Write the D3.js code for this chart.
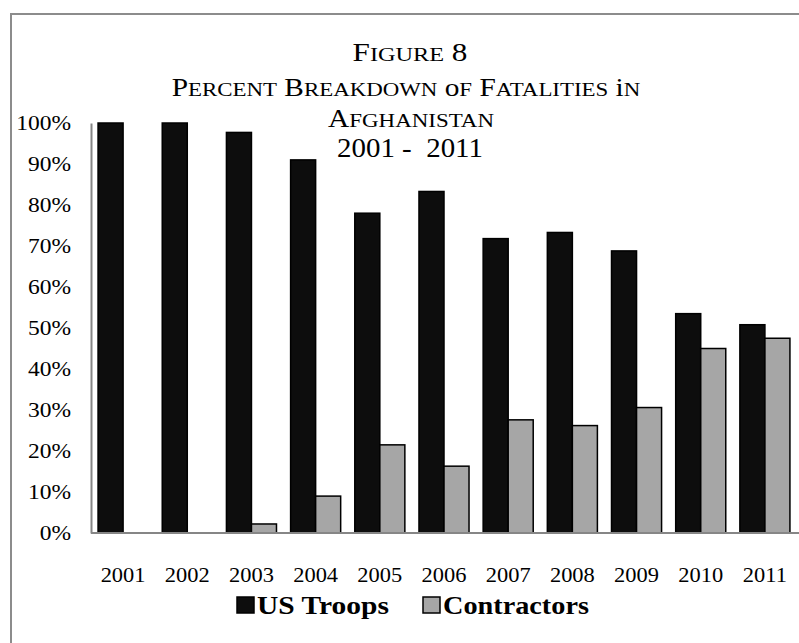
<!DOCTYPE html>
<html><head><meta charset="utf-8">
<script src="https://cdn.jsdelivr.net/npm/d3@7/dist/d3.min.js"></script>
<style>body{margin:0;background:#fff}svg{display:block}text{font-family:"Liberation Serif","Times New Roman",serif}</style>
</head><body><svg id="c" width="799" height="643"></svg>
<script>
const years = ["2001","2002","2003","2004","2005","2006","2007","2008","2009","2010","2011"];
const usTroops = [100, 100, 97.7, 91, 78, 83.3, 71.8, 73.3, 68.8, 53.5, 50.8];
const contractors = [0, 0, 2.2, 9, 21.5, 16.3, 27.6, 26.2, 30.6, 45, 47.5];
const yTicks = [0,10,20,30,40,50,60,70,80,90,100];
const seriesNames = ["US Troops","Contractors"];
const colors = ["#0d0d0d","#a6a6a6"];

(function(){
const svg = d3.select("#c");
svg.append("rect").attr("x",11).attr("y",14).attr("width",800).attr("height",640)
  .attr("fill","#fff").attr("stroke","#8c8c8c").attr("stroke-width",2);

const pLeft=91, pRight=797, pTop=123, pBottom=533;
const x = d3.scaleBand().domain(years).range([pLeft,pRight]).paddingInner(0.22).paddingOuter(0.11);
const xs = d3.scaleBand().domain(seriesNames).range([0,x.bandwidth()]);
const y = d3.scaleLinear().domain([0,100]).range([pBottom,pTop]);

// helper: stretch a text horizontally to a target width around its anchor (x=0 in its group)
function fitWidth(textSel, target){
  const w = textSel.node().getBBox().width;
  textSel.attr("transform", `scale(${target/w},1)`);
}

// title
function smallCaps(cx, yy, words, big, small, width){
  const gg = svg.append("g").attr("transform",`translate(${cx},${yy})`);
  const tx = gg.append("text").attr("x",0).attr("y",0).attr("text-anchor","middle").attr("fill","#000");
  words.forEach((w,i)=>{
    tx.append("tspan").attr("font-size",big).text((i?" ":"")+w[0]);
    if(w.length>1) tx.append("tspan").attr("font-size",small).text(w.slice(1).toUpperCase());
  });
  fitWidth(tx, width);
}
smallCaps(410, 61, ["Figure","8"], 25, 19.5, 115);
smallCaps(406, 96, ["Percent","Breakdown","of","Fatalities","in"], 25, 19.5, 469);
smallCaps(411, 127, ["Afghanistan"], 25, 19.5, 166);
{
  const gg = svg.append("g").attr("transform","translate(410,157)");
  const tx = gg.append("text").attr("text-anchor","middle").attr("font-size",27).attr("fill","#000")
    .attr("xml:space","preserve").text("2001 -  2011");
  fitWidth(tx, 146);
}

// bars
const data = years.map((yr,i)=>({yr, vals:[usTroops[i], contractors[i]]}));
const g = svg.append("g");
data.forEach(d=>{
  d.vals.forEach((v,j)=>{
    if(v<=0) return;
    g.append("rect")
      .attr("x", x(d.yr)+xs(seriesNames[j]))
      .attr("y", y(v))
      .attr("width", xs.bandwidth())
      .attr("height", y(0)-y(v))
      .attr("fill", colors[j]).attr("stroke","#000").attr("stroke-width",1.5);
  });
});

// axes
const ya = svg.append("g").attr("transform",`translate(${pLeft},0)`)
  .call(d3.axisLeft(y).tickValues(yTicks).tickFormat(d=>d+"%").tickSize(0).tickPadding(20));
ya.select(".domain").attr("stroke","#868686").attr("stroke-width",2);
ya.selectAll("text").attr("font-size",21).attr("fill","#000").attr("font-family","Liberation Serif")
  .attr("x",0).attr("transform","translate(-20,0) scale(1.12,1)");

const xa = svg.append("g").attr("transform",`translate(0,${pBottom})`)
  .call(d3.axisBottom(x).tickSize(0).tickPadding(34));
xa.select(".domain").attr("d",`M${pLeft},0H799`).attr("stroke","#868686").attr("stroke-width",2);
xa.selectAll("text").attr("font-size",21).attr("fill","#000").attr("font-family","Liberation Serif")
  .attr("y",0).attr("transform","translate(0,34) scale(1.07,1)");

// legend
const items = [
  {n:seriesNames[0], c:colors[0], x:237, w:132},
  {n:seriesNames[1], c:colors[1], x:423, w:146}
];
items.forEach(it=>{
  svg.append("rect").attr("x",it.x).attr("y",597).attr("width",17).attr("height",16)
    .attr("fill",it.c).attr("stroke","#000").attr("stroke-width",1.5);
  const gg = svg.append("g").attr("transform",`translate(${it.x+20},614)`);
  const tx = gg.append("text").attr("font-family","Liberation Serif").attr("font-weight","bold")
    .attr("font-size",26).attr("fill","#000").text(it.n);
  fitWidth(tx, it.w);
});
})();
</script></body></html>
